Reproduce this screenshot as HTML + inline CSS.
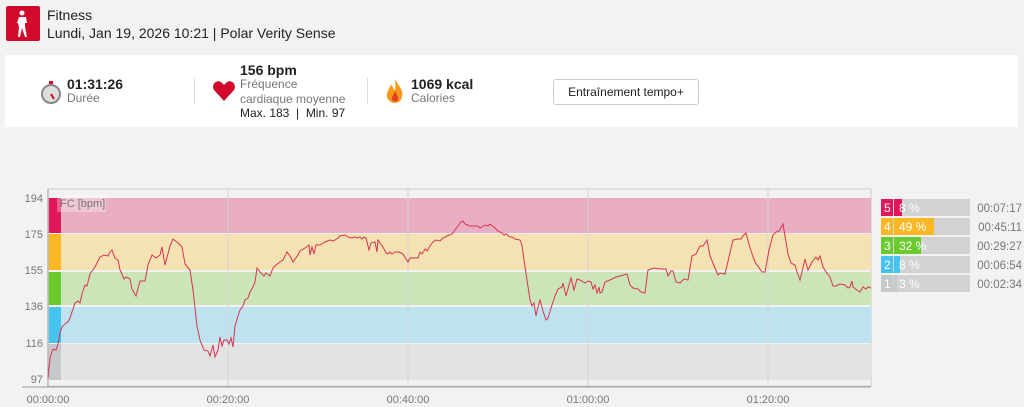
<!DOCTYPE html>
<html><head><meta charset="utf-8"><style>
body{margin:0;width:1024px;height:407px;background:#f2f2f2;font-family:"Liberation Sans",sans-serif;position:relative;overflow:hidden;color:#222}
.a{position:absolute}
</style></head><body>
<div class="a" style="left:6px;top:6px;width:34px;height:35px;background:#d10a2c;border-radius:2px"></div>
<svg class="a" style="left:6px;top:6px" width="34" height="35"><circle cx="16" cy="7" r="2.5" fill="#fff"/><path d="M13 11h7l1 6-2 0 0 4 2 10h-2l-3-9-2 9h-2l1-10-1-4-1 0z" fill="#fff"/></svg>
<div class="a" style="left:47px;top:7px;font-size:14px">Fitness</div>
<div class="a" style="left:47px;top:25px;font-size:14px">Lundi, Jan 19, 2026 10:21 | Polar Verity Sense</div>
<div class="a" style="left:5px;top:55px;width:1013px;height:72px;background:#fff"></div>
<svg class="a" style="left:38px;top:80px" width="26" height="26"><circle cx="13" cy="14" r="9" fill="#ddd" stroke="#888" stroke-width="2"/><line x1="13" y1="14" x2="16" y2="19" stroke="#d10a2c" stroke-width="2"/><rect x="11" y="1" width="4" height="3" fill="#d10a2c"/></svg>
<div class="a" style="left:67px;top:76px;font-size:14px;font-weight:bold">01:31:26</div>
<div class="a" style="left:67px;top:91px;font-size:12px;color:#777">Durée</div>
<div class="a" style="left:194px;top:78px;width:1px;height:26px;background:#ddd"></div>
<svg class="a" style="left:212px;top:80px" width="24" height="22"><path d="M12 21L2 10C-1 5 4-1 9 2l3 3 3-3c5-3 10 3 7 8z" fill="#d10a2c"/></svg>
<div class="a" style="left:240px;top:62px;font-size:14px;font-weight:bold">156 bpm</div>
<div class="a" style="left:240px;top:77px;font-size:12px;color:#777;line-height:15px">Fréquence<br>cardiaque moyenne</div>
<div class="a" style="left:240px;top:106px;font-size:12px">Max. 183 &nbsp;|&nbsp; Min. 97</div>
<div class="a" style="left:367px;top:78px;width:1px;height:26px;background:#ddd"></div>
<svg class="a" style="left:384px;top:78px" width="22" height="26"><path d="M11 1C14 8 20 11 18 19c-1 4-4 6-7 6s-7-2-8-6C2 14 6 10 7 6c2 3 2 5 4 6 1-4 0-8 0-11z" fill="#f79a1c"/><path d="M11 13c2 4 4 6 3 9-1 2-5 2-6 0-1-3 2-5 3-9z" fill="#e5402a"/></svg>
<div class="a" style="left:411px;top:76px;font-size:14px;font-weight:bold">1069 kcal</div>
<div class="a" style="left:411px;top:91px;font-size:12px;color:#777">Calories</div>
<div class="a" style="left:553px;top:79px;width:144px;height:24px;border:1px solid #ccc;border-radius:3px;font-size:12px;text-align:center;line-height:24px;background:#fff">Entraînement tempo+</div>
<svg class="a" style="left:0;top:185px" width="880" height="222" font-family="Liberation Sans" font-size="11" fill="#777">
<g transform="translate(0,-185)">
<rect x="48" y="189" width="823" height="197" fill="#f2f2f2" stroke="#ccc"/>
<rect x="48" y="198" width="823" height="35" fill="#eaaec4"/>
<rect x="48" y="234" width="823" height="36" fill="#f5e2b3"/>
<rect x="48" y="272" width="823" height="33" fill="#cbe5b8"/>
<rect x="48" y="307" width="823" height="36" fill="#bde3f1"/>
<rect x="48" y="344" width="823" height="36" fill="#e2e3e2"/>
<rect x="49" y="198" width="12" height="35" fill="#e0185a"/>
<rect x="49" y="234" width="12" height="36" fill="#fbb824"/>
<rect x="49" y="272" width="12" height="33" fill="#6ccb2c"/>
<rect x="49" y="307" width="12" height="36" fill="#46c4ef"/>
<rect x="49" y="344" width="12" height="36" fill="#c5c9c9"/>
<rect x="57" y="195" width="49" height="17" fill="#fff" opacity="0.3"/>
<text x="60" y="207">FC [bpm]</text>
<g stroke="#d4d4d4" stroke-width="1"><line x1="228" y1="189" x2="228" y2="386"/><line x1="408" y1="189" x2="408" y2="386"/><line x1="588" y1="189" x2="588" y2="386"/><line x1="768" y1="189" x2="768" y2="386"/></g>
<line x1="22" y1="387" x2="871" y2="387" stroke="#999"/>
<line x1="48" y1="189" x2="48" y2="387" stroke="#999"/>
<g text-anchor="end"><text x="43" y="202">194</text><text x="43" y="238">175</text><text x="43" y="274">155</text><text x="43" y="310">136</text><text x="43" y="347">116</text><text x="43" y="383">97</text></g>
<g text-anchor="middle"><text x="48" y="403">00:00:00</text><text x="228" y="403">00:20:00</text><text x="408" y="403">00:40:00</text><text x="588" y="403">01:00:00</text><text x="768" y="403">01:20:00</text></g>
<polyline fill="none" stroke="#d8334f" stroke-width="1" points="48,378 50,358 53,349 56,350 58,344 60,333 62,327 66,323 68,322 70,318 72,312 75,303 78,301 80,303 82,294 85,285 87,286 90,274 95,267 100,257 104,255 108,256 110,252 112,250 115,258 118,260 120,270 124,279 126,277 130,279 132,289 136,296 140,281 145,281 148,265 152,255 156,258 160,255 162,247 165,265 170,246 173,239 178,243 182,247 185,264 190,270 193,290 197,326 200,340 204,350 208,351 210,356 213,345 215,357 218,350 220,337 222,346 224,340 227,340 229,344 231,338 233,347 235,326 238,316 240,310 243,306 245,300 248,298 250,292 253,287 255,282 257,268 260,272 264,276 266,273 270,276 273,268 276,265 280,262 283,260 287,252 290,256 293,262 298,255 300,251 305,248 309,245 310,255 312,247 314,254 316,245 320,245 325,242 330,240 333,241 335,240 338,238 340,236 345,235 348,237 352,238 355,237 358,238 360,237 362,239 364,237 366,238 369,250 371,243 375,242 377,252 378,240 380,243 383,247 386,253 388,254 390,252 392,254 395,252 399,252 403,254 406,259 408,262 410,258 415,258 418,258 420,252 422,254 425,249 427,251 430,246 433,242 436,240 440,241 443,238 447,236 452,234 455,230 458,226 461,222 463,221 465,224 470,226 478,226 480,228 485,225 488,226 490,224 495,228 498,231 502,233 504,235 506,234 510,237 512,237 515,239 520,240 522,245 524,260 527,280 530,300 532,306 534,303 536,316 538,307 540,300 543,311 546,320 548,318 551,308 555,296 558,289 562,287 563,283 566,296 569,285 571,278 574,290 577,279 580,280 585,283 588,281 591,282 593,289 595,285 597,293 599,287 600,293 602,292 605,282 610,280 616,277 620,276 627,274 630,285 633,288 638,289 641,292 645,293 648,270 654,268 660,269 666,269 668,276 671,271 673,271 676,282 680,283 684,279 688,280 692,256 696,254 700,246 703,246 705,243 707,240 710,256 715,268 718,275 720,273 725,274 733,240 738,239 741,239 743,236 746,233 750,248 755,262 762,272 765,272 769,250 773,235 776,232 779,231 783,224 788,254 791,263 795,265 797,272 800,280 802,272 805,259 808,270 812,262 816,257 818,260 820,256 823,267 826,272 830,277 833,286 836,286 840,284 845,285 848,288 850,287 852,281 853,287 857,290 860,292 863,287 866,289 868,287 871,288"/>
</g></svg>
<svg class="a" style="left:880px;top:198px" width="144" height="100" font-family="Liberation Sans" font-size="12">
<g fill="#d2d2d2"><rect x="1" y="1" width="89" height="17"/><rect x="1" y="20" width="89" height="17"/><rect x="1" y="39" width="89" height="17"/><rect x="1" y="58" width="89" height="17"/><rect x="1" y="77" width="89" height="17"/></g>
<rect x="1" y="1" width="12" height="17" fill="#e0185a"/><rect x="14" y="1" width="8" height="17" fill="#e0185a"/>
<rect x="1" y="20" width="12" height="17" fill="#fbb824"/><rect x="14" y="20" width="40" height="17" fill="#fbb824"/>
<rect x="1" y="39" width="12" height="17" fill="#6ccb2c"/><rect x="14" y="39" width="27" height="17" fill="#6ccb2c"/>
<rect x="1" y="58" width="12" height="17" fill="#46c4ef"/><rect x="14" y="58" width="6" height="17" fill="#46c4ef"/>
<rect x="1" y="77" width="12" height="17" fill="#c5c9c9"/><rect x="14" y="77" width="3" height="17" fill="#c5c9c9"/>
<g fill="#fff"><text x="4" y="14">5</text><text x="4" y="33">4</text><text x="4" y="52">3</text><text x="4" y="71">2</text><text x="4" y="90">1</text>
<text x="19" y="14">8 %</text><text x="19" y="33">49 %</text><text x="19" y="52">32 %</text><text x="19" y="71">8 %</text><text x="19" y="90">3 %</text></g>
<g fill="#777" font-size="11.5" text-anchor="end"><text x="142" y="14">00:07:17</text><text x="142" y="33">00:45:11</text><text x="142" y="52">00:29:27</text><text x="142" y="71">00:06:54</text><text x="142" y="90">00:02:34</text></g>
</svg>
</body></html>
